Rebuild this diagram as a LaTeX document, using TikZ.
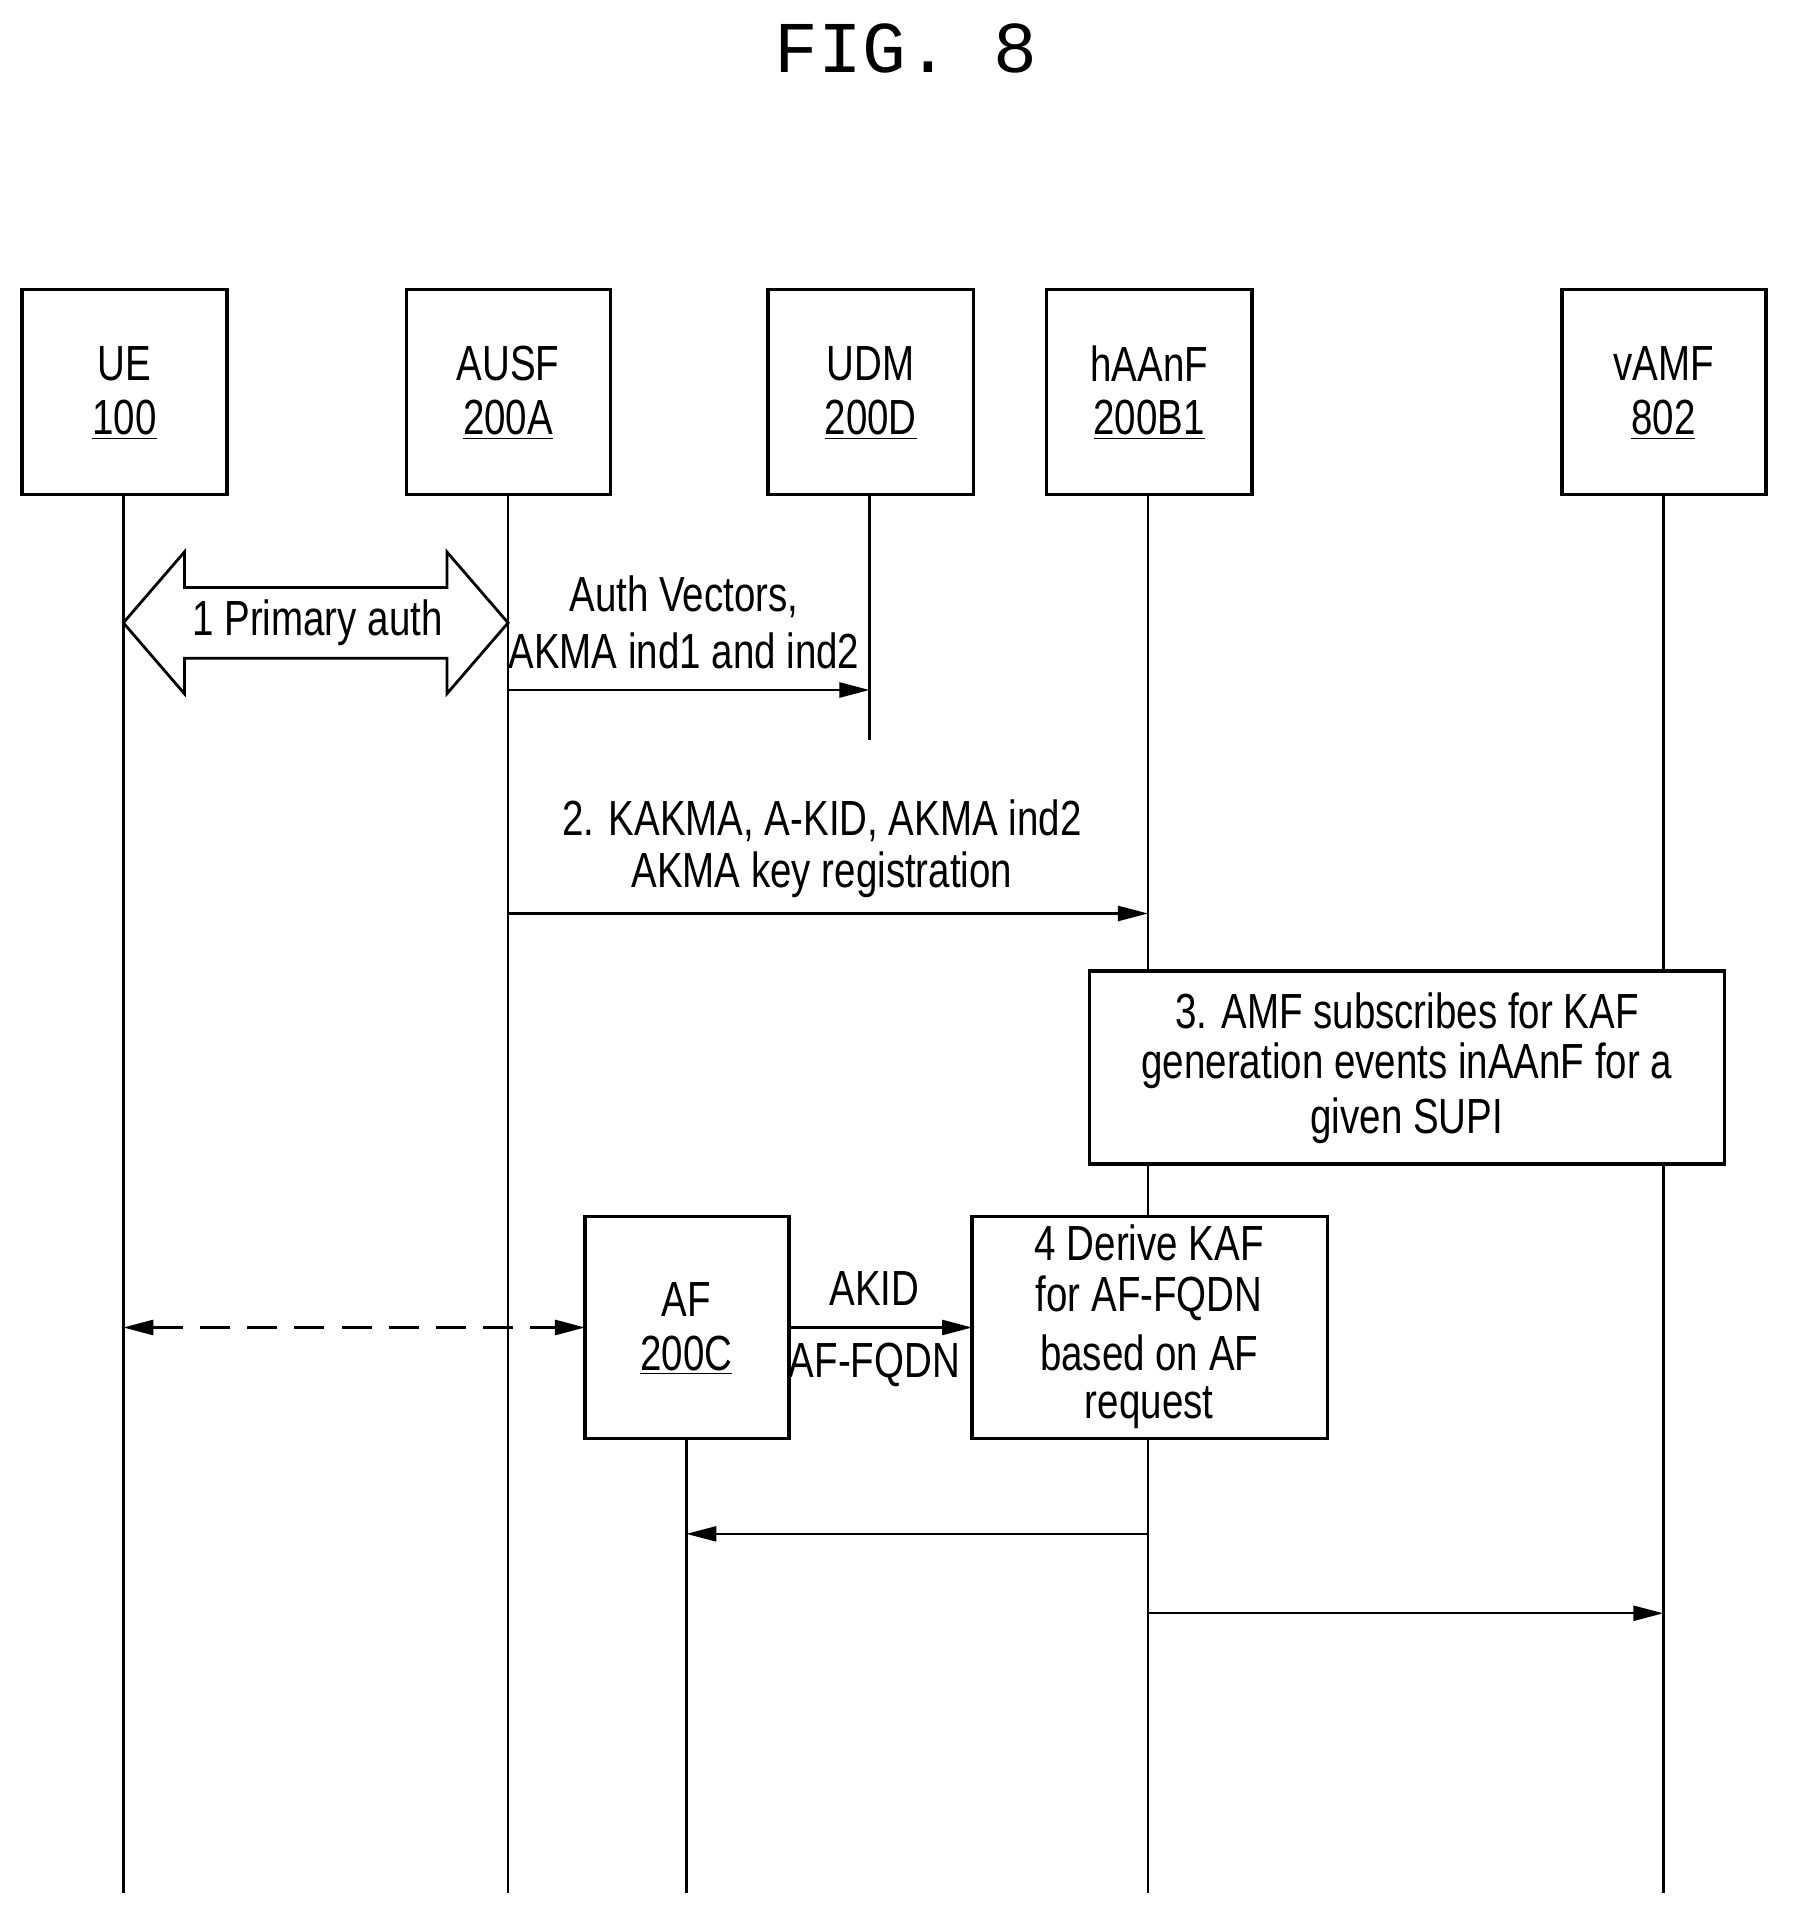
\documentclass[tikz,border=0pt]{standalone}
\usepackage{fontspec}
\setmainfont{Liberation Sans}[FakeStretch=0.78]
\newfontfamily\titlefont{Liberation Mono}
\usetikzlibrary{arrows.meta,shapes.arrows}
\begin{document}
\begin{tikzpicture}[x=0.02cm,y=-0.02cm,
  box/.style={draw,line width=1.7pt,inner sep=0},
  txt/.style={font=\fontsize{23}{27}\selectfont,align=center},
  life/.style={line width=1.1pt},
  msg/.style={line width=1.1pt,-{Triangle[length=14pt,width=7pt]}}]
\useasboundingbox (0,0) rectangle (1470,1573);
\node[font=\titlefont\fontsize{34}{40}\selectfont] (title) at (742,40) {FIG. 8};
% boxes
\draw[box] (18,237) rectangle (186,405);
\draw[box] (333,237) rectangle (500,405);
\draw[box] (629,237) rectangle (797,405);
\draw[box] (857,237) rectangle (1025,405);
\draw[box] (1279,237) rectangle (1446,405);
\node[txt] (ue) at (102,298) {UE}; \node[txt] (uen) at (102,344) {\underline{100}};
\node[txt] (ausf) at (416,298) {AUSF}; \node[txt] (ausfn) at (416,344) {\underline{200A}};
\node[txt] (udm) at (713,298) {UDM}; \node[txt] (udmn) at (713,344) {\underline{200D}};
\node[txt] (haanf) at (941,298) {hAAnF}; \node[txt] (haanfn) at (941,344) {\underline{200B1}};
\node[txt] (vamf) at (1362,298) {vAMF}; \node[txt] (vamfn) at (1362,344) {\underline{802}};
% lifelines
\coordinate (ueT) at (101,405); \coordinate (ueB) at (101,1550);
\coordinate (auT) at (416,405); \coordinate (auB) at (416,1550);
\coordinate (udT) at (712,405); \coordinate (udB) at (712,606);
\coordinate (haT) at (940,405); \coordinate (haB) at (940,1550);
\coordinate (vaT) at (1362,405); \coordinate (vaB) at (1362,1550);
\coordinate (afT) at (562,1178); \coordinate (afB) at (562,1550);
\draw[life] (ueT)--(ueB); \draw[life] (auT)--(auB); \draw[life] (udT)--(udB);
\draw[life] (haT)--(940,795); \draw[life] (940,953)--(940,996); \draw[life] (940,1178)--(haB);
\draw[life] (vaT)--(1362,795); \draw[life] (1362,953)--(vaB);
\draw[life] (afT)--(afB);
% hollow double arrow
\draw[line width=1.3pt,fill=white] (101,510)--(151,452)--(151,481)--(366,481)--(366,452)--(416,510)--(366,568)--(366,539)--(151,539)--(151,568)--cycle;
\node[txt] (pa) at (260,510) {1 Primary auth};
% messages
\coordinate (m1a) at (416,565); \coordinate (m1b) at (712,565);
\draw[msg] (m1a)--(m1b);
\node[txt] (l1) at (560,489) {Auth Vectors,};
\node[txt] (l1b) at (560,533) {AKMA ind1 and ind2};
\coordinate (m2a) at (416,748); \coordinate (m2b) at (940,748);
\draw[msg] (m2a)--(m2b);
\node[txt] (l2) at (673,672) {2. KAKMA, A-KID, AKMA ind2};
\node[txt] (l2b) at (673,716) {AKMA key registration};
% box 3
\draw[box] (892,795) rectangle (1412,953);
\node[txt] (b3a) at (1152,828) {3. AMF subscribes for KAF};
\node[txt] (b3b) at (1152,873) {generation events inAAnF for a};
\node[txt] (b3c) at (1152,918) {given SUPI};
% AF box
\draw[box] (479,996) rectangle (646,1178);
\node[txt] (af) at (562,1064) {AF}; \node[txt] (afn) at (562,1110) {\underline{200C}};
% box 4
\draw[box] (796,996) rectangle (1087,1178);
\node[txt] (b4a) at (941,1018) {4 Derive KAF};
\node[txt] (b4b) at (941,1063) {for AF-FQDN};
\node[txt] (b4c) at (941,1108) {based on AF};
\node[txt] (b4d) at (941,1153) {request};
% dashed
\coordinate (d1) at (101,1087); \coordinate (d2) at (479,1087);
\draw[line width=1.3pt,dash pattern=on 14pt off 8pt,{Triangle[length=14pt,width=7pt]}-{Triangle[length=14pt,width=7pt]}] (d1)--(d2);
\coordinate (m3a) at (646,1087); \coordinate (m3b) at (796,1087);
\draw[msg] (m3a)--(m3b);
\node[txt] (akid) at (716,1055) {AKID};
\node[txt] (fqdn) at (716,1118) {AF-FQDN};
\coordinate (m4a) at (940,1256); \coordinate (m4b) at (562,1256);
\draw[msg] (m4a)--(m4b);
\coordinate (m5a) at (940,1321); \coordinate (m5b) at (1362,1321);
\draw[msg] (m5a)--(m5b);
\end{tikzpicture}
\end{document}
